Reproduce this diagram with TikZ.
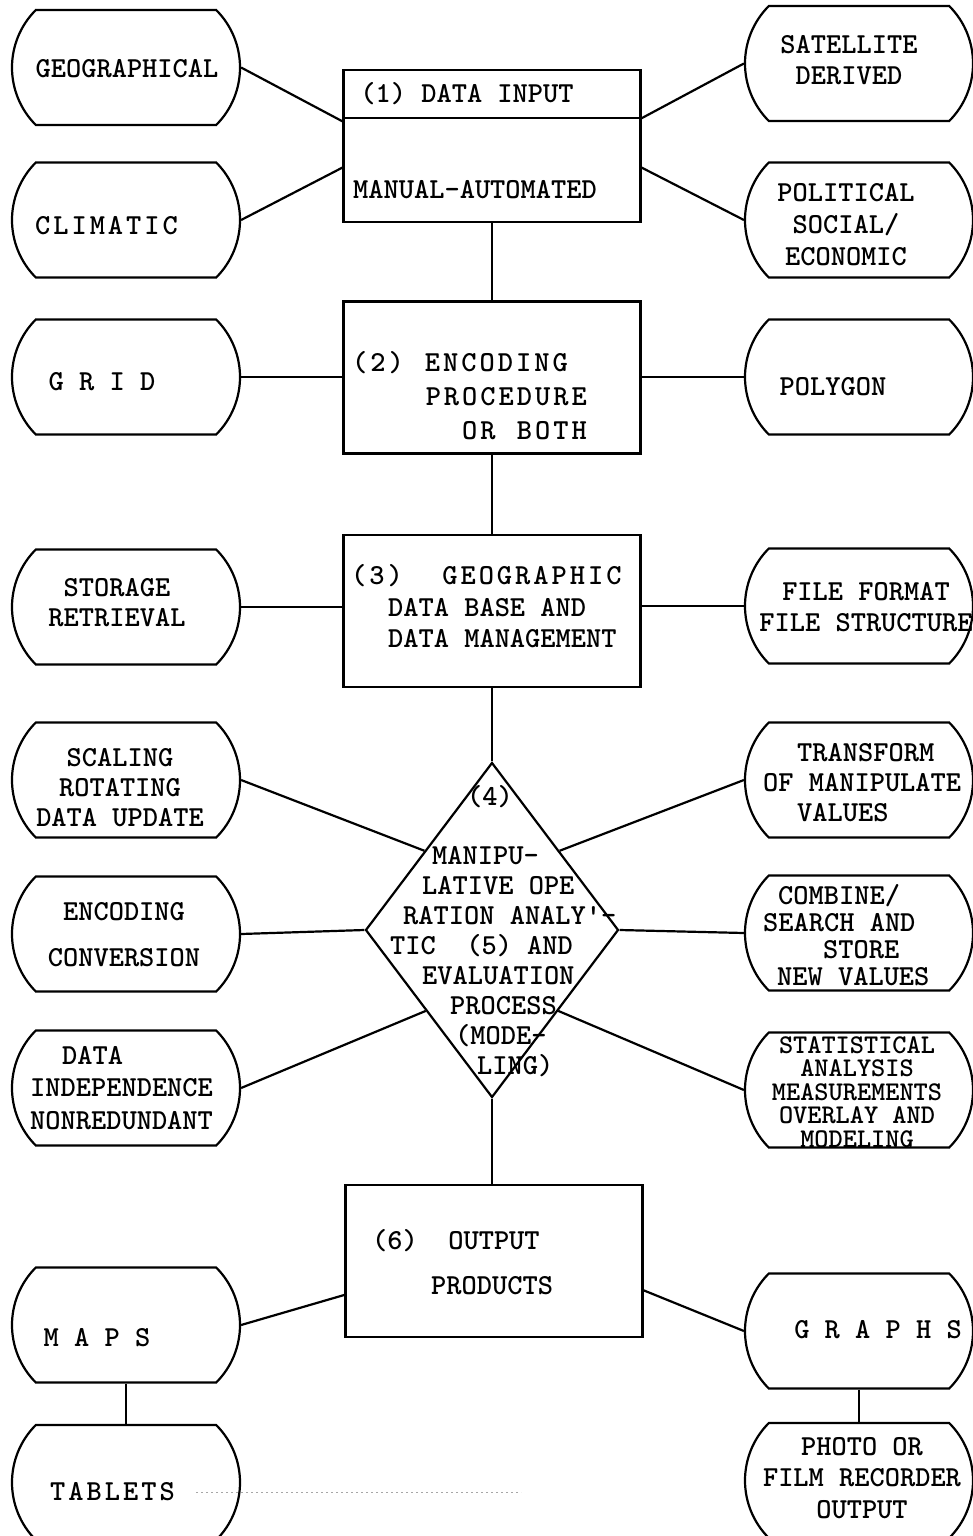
\documentclass[tikz,border=0pt]{standalone}
\usetikzlibrary{shapes.misc,shapes.geometric,calc}

% typewriter text, with a chosen baseline distance
\newcommand\twls[1]{\ttfamily\fontseries{b}\fontsize{29pt}{#1}\selectfont}
\newcommand\tw{\twls{31pt}}
% letter-spaced text: \lsp[kern]{LETTERS}, use ~ for a space
\newcommand\lsp[2][3pt]{\def\lspamt{#1}\lspx#2\relax}
\def\lspx#1{\ifx#1\relax\else#1\kern\lspamt\expandafter\lspx\fi}

\tikzset{
  ln/.style={line width=2.2pt},
  oval/.style={draw, line width=2.2pt, rounded rectangle, rounded rectangle arc length=90,
    minimum width=228pt, minimum height=115pt, inner sep=0pt},
  blk/.style={draw, line width=2.2pt, rectangle, minimum width=297pt, minimum height=152pt, inner sep=0pt},
  dia/.style={draw, line width=2.2pt, diamond, minimum width=253pt, minimum height=335pt, inner sep=0pt},
  txt/.style={inner sep=0pt, font=\tw, align=center},
}

\begin{document}
\begin{tikzpicture}[x=1pt,y=-1pt]
\path[use as bounding box, fill=white] (0,0) rectangle (973,1536);
\clip (0,0) rectangle (973,1536);

% left column of data items
\node[oval] (geo)   at (126,67.5) {};
\node[oval] (clim)  at (126,220) {};
\node[oval] (grid)  at (126,377) {};
\node[oval] (stor)  at (126,607) {};
\node[oval] (scal)  at (126,780) {};
\node[oval] (encc)  at (126,934) {};
\node[oval] (indep) at (126,1088) {};
\node[oval] (maps)  at (126,1325) {};
\node[oval] (tabl)  at (126,1482.5) {};

% right column of data items
\node[oval] (sat)    at (859,63.5) {};
\node[oval] (pol)    at (859,220) {};
\node[oval] (poly)   at (859,377) {};
\node[oval] (file)   at (859,606) {};
\node[oval] (trans)  at (859,780) {};
\node[oval] (comb)   at (859,933) {};
\node[oval] (stat)   at (859,1090) {};
\node[oval] (graphs) at (859,1331) {};
\node[oval] (photo)  at (859,1480.5) {};

% main process chain
\node[blk] (b1) at (492,146) {};
\node[blk] (b2) at (492,377.5) {};
\node[blk] (b3) at (492,611) {};
\node[dia] (d4) at (492,930) {};
\node[blk] (b6) at (494,1261) {};

% labels of the data items
\node[txt] (geo-t) at (127,69) {GEOGRAPHICAL};
\node[txt] (clim-t) at (108,226) {\lsp{CLIMATIC}};
\node[txt] (sat-t) at (849,60) {SATELLITE\\DERIVED};
\node[txt, font=\twls{32pt}] (pol-t) at (846,225) {POLITICAL\\SOCIAL/\\ECONOMIC};
\node[txt] (grid-t) at (102,382) {G R I D};
\node[txt] (poly-t) at (833,387) {POLYGON};
\node[txt, font=\twls{30pt}] (stor-t) at (117,603) {STORAGE\\RETRIEVAL};
\node[txt] (file-t) at (866,607) {FILE FORMAT\\FILE STRUCTURE};
\node[txt, font=\twls{30pt}] (scal-t) at (120,788) {SCALING\\ROTATING\\DATA UPDATE};
\node[txt, font=\twls{46pt}] (encc-t) at (124,935) {ENCODING\\CONVERSION};
\node[txt, align=left, anchor=west, font=\twls{32.5pt}] (indep-t) at (30,1088)
  {\hspace*{32pt}DATA\\INDEPENDENCE\\NONREDUNDANT};
\node[txt, align=left, anchor=west, font=\twls{30pt}] (trans-t) at (763,783)
  {\hspace*{34pt}TRANSFORM\\OF MANIPULATE\\\hspace*{34pt}VALUES};
\node[txt, align=left, anchor=west, font=\twls{27pt}] (comb-t) at (763,935)
  {\hspace*{15pt}COMBINE/\\SEARCH AND\\\hspace*{60pt}STORE\\\hspace*{14pt}NEW VALUES};
\node[txt, font={\ttfamily\fontseries{b}\fontsize{27pt}{23.5pt}\selectfont}] (stat-t) at (857,1092)
  {STATISTICAL\\ANALYSIS\\MEASUREMENTS\\OVERLAY AND\\MODELING};
\node[txt] (maps-t) at (97,1338) {M A P S};
\node[txt] (tabl-t) at (114,1492) {\lsp{TABLETS}};
\node[txt] (graphs-t) at (878,1330) {G R A P H S};
\node[txt, font=\twls{31.5pt}] (photo-t) at (862,1478) {PHOTO OR\\FILM RECORDER\\OUTPUT};

% labels of the process steps
\node[txt] (b1-t1) at (467,94) {(1) DATA INPUT};
\node[txt] (b1-t2) at (475,190) {MANUAL-AUTOMATED};
\node[txt, align=right, anchor=east, font=\twls{34pt}] (b2-t) at (590,396)
  {\lsp{(2)~ENCODING}\hspace*{19pt}\\\lsp{PROCEDURE}\\\lsp{OR~BOTH}};
\node[txt, align=left, anchor=west, font=\twls{31.5pt}] (b3-t) at (351,606.5)
  {\lsp{(3)~~GEOGRAPHIC}\\\hspace*{37pt}DATA BASE AND\\\hspace*{37pt}DATA MANAGEMENT};
\node[txt] (d4-n) at (490,797) {(4)};
\node[txt, align=left, anchor=west, font=\twls{30pt}] (d4-t) at (390,962)
  {\hspace*{42pt}MANIPU-\\\hspace*{32pt}LATIVE OPE\\\hspace*{13pt}RATION ANALY'-\\TIC~~(5) AND\\
   \hspace*{32pt}EVALUATION\\\hspace*{60pt}PROCESS\\\hspace*{65pt}(MODE-\\\hspace*{87pt}LING)};
\node[txt, align=left, anchor=west, font=\twls{45pt}] (b6-t) at (372,1262.5)
  {(6)~~OUTPUT\\\hspace*{59pt}PRODUCTS};

% divider of the data input box
\draw[ln] ($(b1.north west)!0.316!(b1.south west)$) -- ($(b1.north east)!0.316!(b1.south east)$);

% connectors
\draw[ln] (geo.east) -- ($(b1.north west)!0.34!(b1.south west)$);
\draw[ln] (clim.east) -- ($(b1.north west)!0.64!(b1.south west)$);
\draw[ln] (sat.west) -- ($(b1.north east)!0.32!(b1.south east)$);
\draw[ln] (pol.west) -- ($(b1.north east)!0.64!(b1.south east)$);
\draw[ln] (b1.south) -- (b2.north);
\draw[ln] (grid.east) -- (grid.east -| b2.west);
\draw[ln] (poly.west) -- (poly.west -| b2.east);
\draw[ln] (b2.south) -- (b3.north);
\draw[ln] (stor.east) -- (stor.east -| b3.west);
\draw[ln] (file.west) -- (file.west -| b3.east);
\draw[ln] (b3.south) -- (d4.north);
\draw[ln] (scal.east) -- ($(d4.north)!0.53!(d4.west)$);
\draw[ln] (encc.east) -- (d4.west);
\draw[ln] (indep.east) -- ($(d4.west)!0.48!(d4.south)$);
\draw[ln] (trans.west) -- ($(d4.north)!0.53!(d4.east)$);
\draw[ln] (comb.west) -- (d4.east);
\draw[ln] (stat.west) -- ($(d4.east)!0.48!(d4.south)$);
\draw[ln] (d4.south) -- (d4.south |- b6.north);
\draw[ln] (maps.east) -- ($(b6.north west)!0.72!(b6.south west)$);
\draw[ln] (graphs.west) -- ($(b6.north east)!0.69!(b6.south east)$);
\draw[ln] (maps.south) -- (tabl.north);
\draw[ln] (graphs.south) -- (photo.north);

% faint dotted trace beside the tablets item
\draw[black!35, line width=1pt, dash pattern=on 2pt off 3pt] (196,1492) -- (521,1492);
\end{tikzpicture}
\end{document}
